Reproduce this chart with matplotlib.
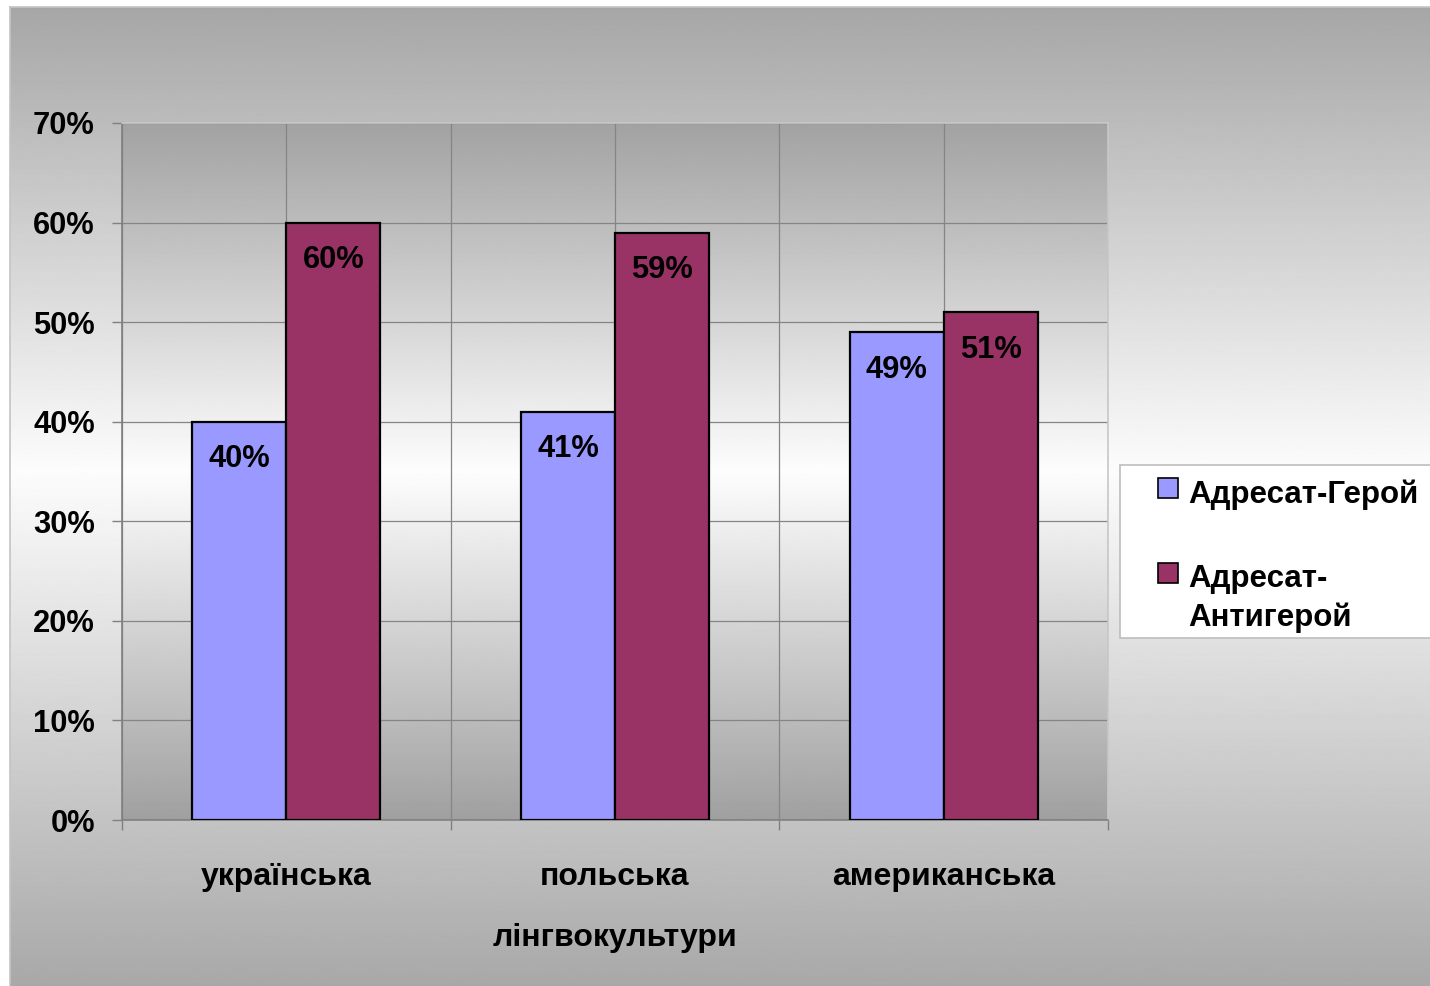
import numpy as np
import matplotlib
matplotlib.use("Agg")
import matplotlib.pyplot as plt
from matplotlib.patches import Rectangle
from matplotlib.ticker import FixedLocator, NullFormatter

# ---- data ----
categories = ["українська", "польська", "американська"]
series_names = ["Адресат-Герой", "Адресат-\nАнтигерой"]
hero = [0.40, 0.41, 0.49]
antihero = [0.60, 0.59, 0.51]
series_colors = ["#9999ff", "#993366"]
y_ticks = [0.0, 0.1, 0.2, 0.3, 0.4, 0.5, 0.6, 0.7]
y_tick_labels = ["0%", "10%", "20%", "30%", "40%", "50%", "60%", "70%"]
axis_title = "лінгвокультури"

plt.rcParams["font.family"] = ["Liberation Sans", "DejaVu Sans"]
plt.rcParams["font.weight"] = "bold"

W, H = 1430, 986
fig = plt.figure(figsize=(W / 100, H / 100), dpi=100, facecolor="white")


def rect_px(x0, y0, x1, y1):
    """Figure-fraction rectangle from pixel corners (origin top-left)."""
    return [x0 / W, 1 - y1 / H, (x1 - x0) / W, (y1 - y0) / H]


def fx(x):
    return x / W


def fy(y):
    return 1 - y / H


def vgrad(top, center, bottom, cpos, n=600):
    t = np.linspace(0, 1, n)
    v = np.where(t < cpos,
                 top + (center - top) * t / cpos,
                 center + (bottom - center) * (t - cpos) / (1 - cpos))
    return v[:, None]


# chart area background: grey -> white -> grey
bg = fig.add_axes(rect_px(10, 7, W + 2, H + 2), zorder=0)
bg.imshow(vgrad(166 / 255, 252 / 255, 168 / 255, (470 - 7) / (986 - 7)),
          cmap="gray", vmin=0, vmax=1, aspect="auto",
          extent=(0, 1, 0, 1), interpolation="bilinear")
bg.set_xlim(0, 1)
bg.set_ylim(0, 1)
bg.set_xticks([])
bg.set_yticks([])
for s in bg.spines.values():
    s.set_color("#c4c4c4")
    s.set_linewidth(1.2)

# plot area
ax = fig.add_axes(rect_px(122, 123, 1108, 820), zorder=1)
n = len(categories)
ax.imshow(vgrad(162 / 255, 253 / 255, 160 / 255, 0.5),
          cmap="gray", vmin=0, vmax=1, aspect="auto",
          extent=(0, n, 0, 0.7), interpolation="bilinear", zorder=0)
ax.set_xlim(0, n)
ax.set_ylim(0, 0.7)

width = 1 / 3.5
centers = np.arange(n) + 0.5
bars_h = ax.bar(centers - width / 2, hero, width, color=series_colors[0],
                edgecolor="black", linewidth=1.6, zorder=3)
bars_a = ax.bar(centers + width / 2, antihero, width, color=series_colors[1],
                edgecolor="black", linewidth=1.6, zorder=3)

for bars, vals in ((bars_h, hero), (bars_a, antihero)):
    for b, v in zip(bars, vals):
        ax.annotate(f"{round(v * 100)}%",
                    xy=(b.get_x() + b.get_width() / 2, v),
                    xytext=(0, -27), textcoords="offset points",
                    ha="center", va="center", fontsize=22.2,
                    fontweight="bold", color="black", zorder=4)

# axes, ticks, grid
ax.yaxis.set_major_locator(FixedLocator(y_ticks))
ax.set_yticklabels(y_tick_labels)
ax.tick_params(axis="y", length=7.5, width=1, color="#808080",
               labelsize=22.2, pad=12)

ax.xaxis.set_major_locator(FixedLocator(np.arange(n + 1)))
ax.xaxis.set_major_formatter(NullFormatter())
ax.xaxis.set_minor_locator(FixedLocator(centers))
ax.set_xticklabels(categories, minor=True)
ax.tick_params(axis="x", which="major", length=7.5, width=1, color="#808080")
ax.tick_params(axis="x", which="minor", length=0, labelsize=23, pad=30)

ax.grid(axis="y", color="#858585", linewidth=0.9, zorder=1)
ax.grid(axis="x", which="both", color="#858585", linewidth=0.9, zorder=1)
ax.set_axisbelow(True)

ax.spines["left"].set_color("#808080")
ax.spines["bottom"].set_color("#808080")
ax.spines["top"].set_color("#c8c8c8")
ax.spines["right"].set_color("#c8c8c8")
for s in ax.spines.values():
    s.set_linewidth(1.2)

fig.text(fx(615), fy(946), axis_title, ha="center", va="baseline",
         fontsize=23, fontweight="bold")

# legend box
fig.patches.append(Rectangle((fx(1120), fy(638)), fx(1440) - fx(1120),
                             fy(465) - fy(638), transform=fig.transFigure,
                             facecolor="white", edgecolor="#bdbdbd",
                             linewidth=1.2, zorder=5))
# (square top, baseline of the label's last line)
legend_rows = [(478, 503), (563, 626)]
for (top, base), name, col in zip(legend_rows, series_names, series_colors):
    fig.patches.append(Rectangle((fx(1158), fy(top + 20)), fx(20), 20 / H,
                                 transform=fig.transFigure, facecolor=col,
                                 edgecolor="black", linewidth=1.2, zorder=6))
    fig.text(fx(1188), fy(base), name, ha="left", va="baseline",
             fontsize=22.5, fontweight="bold", linespacing=1.36, zorder=6)

fig.savefig("out.png", dpi=100, facecolor="white")
